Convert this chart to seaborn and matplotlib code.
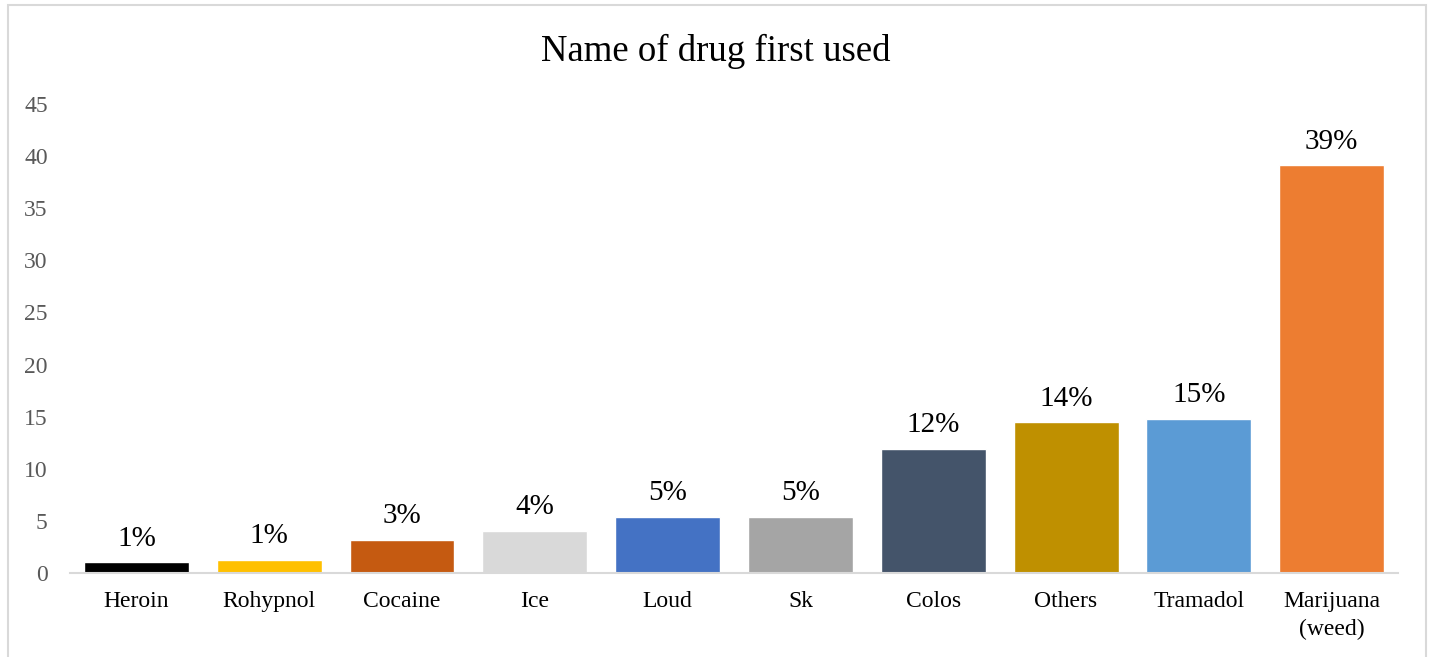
import matplotlib
matplotlib.use("Agg")
import matplotlib.pyplot as plt
from matplotlib.patches import Rectangle
import seaborn as sns
import pandas as pd

# Drug first used (percentage of respondents)
drugs = ["Heroin", "Rohypnol", "Cocaine", "Ice", "Loud", "Sk",
         "Colos", "Others", "Tramadol", "Marijuana\n(weed)"]
shares = [1.02, 1.28, 3.2, 4.06, 5.4, 5.4, 11.93, 14.45, 14.8, 39.1]
bar_colors = ["#000000", "#FFC000", "#C55A11", "#D9D9D9", "#4472C4",
              "#A5A5A5", "#44546A", "#BF9000", "#5B9BD5", "#ED7D31"]
y_ticks = [0, 5, 10, 15, 20, 25, 30, 35, 40, 45]

df = pd.DataFrame({"drug": drugs, "share": shares})

sns.set_theme(style="white")
plt.rcParams["font.family"] = ["Liberation Serif", "DejaVu Serif"]

fig = plt.figure(figsize=(14.31, 6.57), dpi=100)
ax = fig.add_axes([0.0489, 0.1279, 0.9281, 0.7138])

sns.barplot(data=df, x="drug", y="share", hue="drug",
            palette=dict(zip(drugs, bar_colors)), width=0.79,
            saturation=1, legend=False, ax=ax)

ax.set_xlim(-0.5, len(drugs) - 0.5)
ax.set_ylim(0, 45)
ax.set_yticks(y_ticks)
ax.set_yticklabels([str(t) for t in y_ticks], fontsize=17, color="#595959")
ax.tick_params(axis="y", length=0, pad=16)
ax.tick_params(axis="x", length=0, pad=13, labelsize=17, labelcolor="black")
for lbl in ax.get_xticklabels():
    lbl.set_linespacing(1.4)
    lbl.set_verticalalignment("top")
ax.set_xlabel("")
ax.set_ylabel("")

for side in ["left", "right", "top"]:
    ax.spines[side].set_visible(False)
ax.spines["bottom"].set_color("#D9D9D9")
ax.spines["bottom"].set_linewidth(1.5)

# value labels above each bar
for i, v in enumerate(shares):
    ax.annotate(f"{v:.0f}%", xy=(i, v), xytext=(0, 12),
                textcoords="offset points", ha="center", va="baseline",
                fontsize=21, color="black")

fig.text(0.5, 0.922, "Name of drug first used", ha="center", va="center",
         fontsize=26.5, color="black")

# thin chart-area border
fig.patches.append(Rectangle((8 / 1431, -0.05), 1418 / 1431, 1.05 - 5 / 657,
                             transform=fig.transFigure, fill=False,
                             edgecolor="#D9D9D9", linewidth=1.5))

fig.savefig("out.png", dpi=100, facecolor="white")
